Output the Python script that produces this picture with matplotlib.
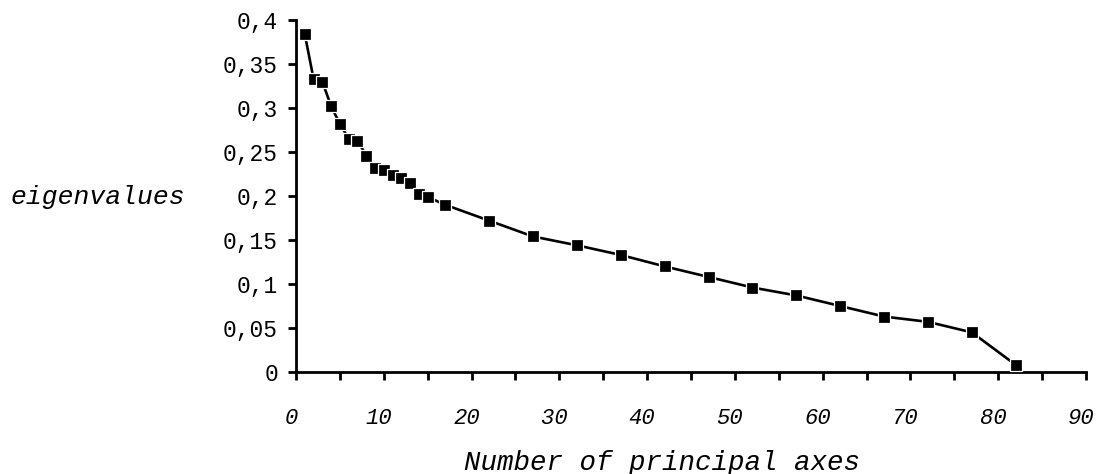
import matplotlib
matplotlib.use("Agg")
import matplotlib.pyplot as plt
import matplotlib.transforms as mtransforms

# ---- data ----
axes_number = [1, 2, 3, 4, 5, 6, 7, 8, 9, 10, 11, 12, 13, 14, 15,
               17, 22, 27, 32, 37, 42, 47, 52, 57, 62, 67, 72, 77, 82]
eigenvalues = [0.384, 0.333, 0.330, 0.302, 0.282, 0.265, 0.263, 0.246, 0.232,
               0.229, 0.224, 0.220, 0.215, 0.202, 0.199,
               0.190, 0.172, 0.154, 0.144, 0.133, 0.120, 0.108, 0.096, 0.087,
               0.075, 0.063, 0.057, 0.045, 0.008]
xtick_values = [0, 10, 20, 30, 40, 50, 60, 70, 80, 90]
xtick_labels = ["0", "10", "20", "30", "40", "50", "60", "70", "80", "90"]
ytick_values = [0, 0.05, 0.1, 0.15, 0.2, 0.25, 0.3, 0.35, 0.4]
ytick_labels = ["0", "0,05", "0,1", "0,15", "0,2", "0,25", "0,3", "0,35", "0,4"]
ylabel_text = "eigenvalues"
xlabel_text = "Number of principal axes"

FONT = "Liberation Mono"

fig = plt.figure(figsize=(10.96, 4.74), dpi=100)
ax = fig.add_axes([296 / 1096, 1 - 372 / 474, 790 / 1096, 352 / 474])

ax.plot(axes_number, eigenvalues, color="black", linewidth=1.9,
        marker="s", markersize=8.4, markerfacecolor="black",
        markeredgecolor="white", markeredgewidth=0.9, clip_on=False, zorder=3)

ax.set_xlim(0, 90)
ax.set_ylim(0, 0.4)

for s in ["top", "right"]:
    ax.spines[s].set_visible(False)
for s in ["left", "bottom"]:
    ax.spines[s].set_linewidth(2.0)
    ax.spines[s].set_color("black")

ax.set_xticks(list(range(0, 91, 5)), minor=False)
ax.set_xticklabels(["" if v not in xtick_values else xtick_labels[xtick_values.index(v)]
                    for v in range(0, 91, 5)])
ax.set_yticks(ytick_values)
ax.set_yticklabels(ytick_labels)

ax.tick_params(axis="both", direction="out", length=6, width=2, color="black")
ax.tick_params(axis="x", pad=20)
ax.tick_params(axis="y", pad=7)

for lab in ax.get_yticklabels():
    lab.set_fontfamily(FONT)
    lab.set_fontsize(16.5)
offset = mtransforms.ScaledTranslation(-5 / 100, 0, fig.dpi_scale_trans)
for lab in ax.get_xticklabels():
    lab.set_fontfamily(FONT)
    lab.set_fontsize(16)
    lab.set_fontstyle("italic")
    lab.set_transform(lab.get_transform() + offset)

# y label, horizontal, at the level of 0.2
fig.text(11 / 1096, 1 - 197 / 474, ylabel_text, fontfamily=FONT, fontsize=19,
         fontstyle="italic", ha="left", va="center")
# x label
fig.text(662 / 1096, 1 - 463 / 474, xlabel_text, fontfamily=FONT, fontsize=19.8,
         fontstyle="italic", ha="center", va="center")

fig.savefig("out.png", dpi=100)
